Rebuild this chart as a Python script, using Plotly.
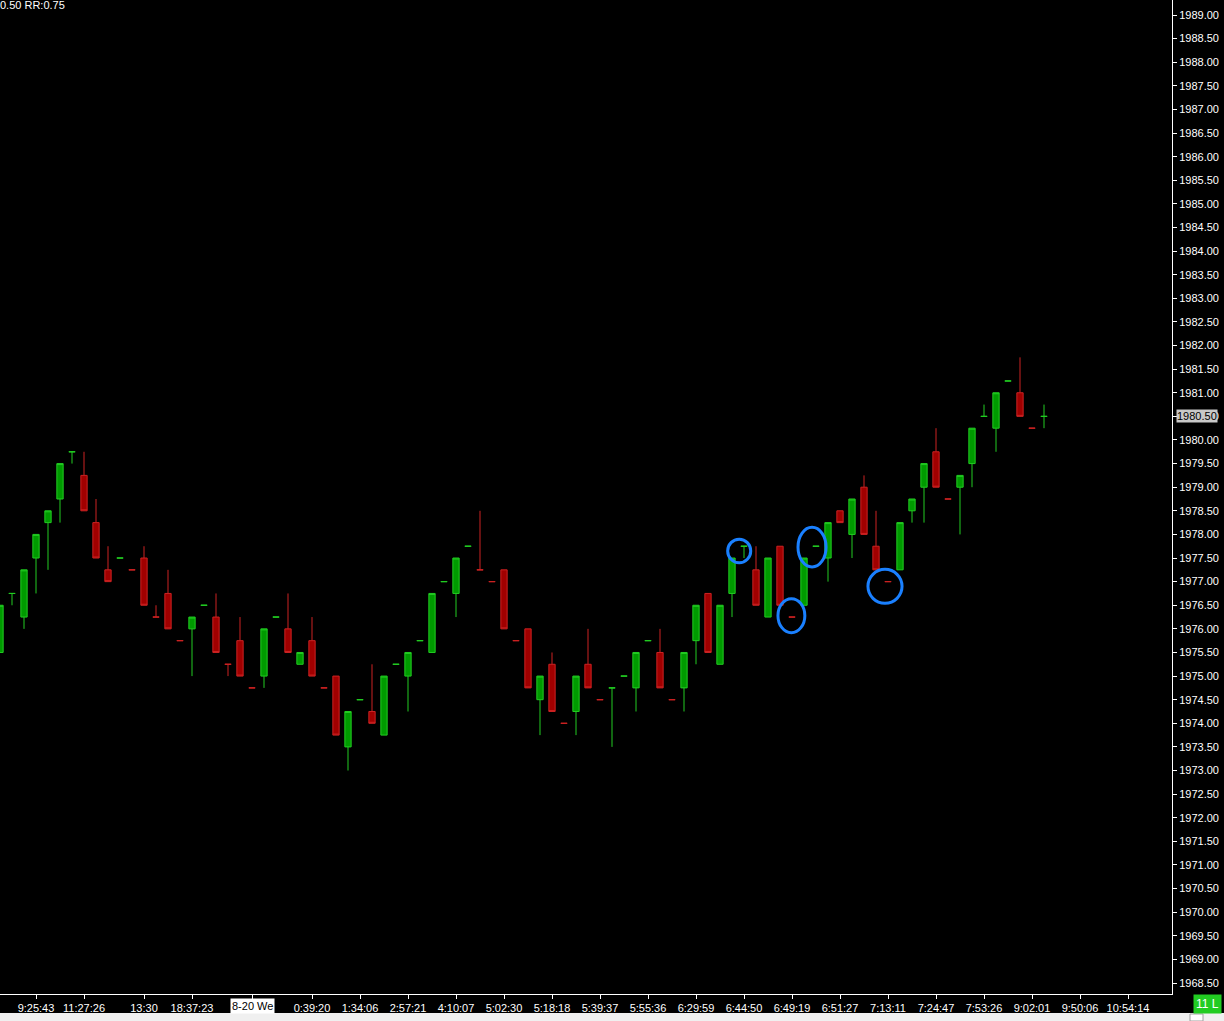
import plotly.graph_objects as go

# ---------------- data ----------------
opens = [1975.50, 1976.75, 1976.25, 1977.50, 1978.25, 1978.75, 1979.75, 1979.25, 1978.25, 1977.25,
         1977.50, 1977.25, 1977.50, 1976.25, 1976.75, 1975.75, 1976.00, 1976.50, 1976.25, 1975.25,
         1975.75, 1974.75, 1975.00, 1976.25, 1976.00, 1975.25, 1975.75, 1974.75, 1975.00, 1973.50,
         1974.50, 1974.25, 1973.75, 1975.25, 1975.00, 1975.75, 1975.50, 1977.00, 1976.75, 1977.75,
         1977.25, 1977.00, 1977.25, 1975.75, 1976.00, 1974.50, 1975.25, 1974.00, 1974.25, 1975.25,
         1974.50, 1974.75, 1975.00, 1974.75, 1975.75, 1975.50, 1974.50, 1974.75, 1975.75, 1976.75,
         1975.25, 1976.75, 1977.75, 1977.25, 1976.25, 1977.75, 1976.25, 1976.50, 1977.75, 1977.50,
         1978.50, 1978.00, 1979.00, 1977.75, 1977.00, 1977.25, 1978.50, 1979.00, 1979.75, 1978.75,
         1979.00, 1979.50, 1980.50, 1980.25, 1981.25, 1981.00, 1980.25, 1980.50]
highs = [1976.50, 1976.75, 1977.25, 1978.00, 1978.50, 1979.50, 1979.75, 1979.75, 1978.75, 1977.75,
         1977.50, 1977.25, 1977.75, 1976.50, 1977.25, 1975.75, 1976.25, 1976.50, 1976.75, 1975.25,
         1976.25, 1974.75, 1976.00, 1976.25, 1976.75, 1975.50, 1976.25, 1974.75, 1975.00, 1974.25,
         1974.50, 1975.25, 1975.00, 1975.25, 1975.50, 1975.75, 1976.75, 1977.00, 1977.50, 1977.75,
         1978.50, 1977.00, 1977.25, 1975.75, 1976.00, 1975.00, 1975.50, 1974.00, 1975.00, 1976.00,
         1974.50, 1974.75, 1975.00, 1975.50, 1975.75, 1976.00, 1974.50, 1975.50, 1976.50, 1976.75,
         1976.50, 1977.50, 1977.75, 1977.75, 1977.50, 1977.75, 1976.25, 1977.50, 1977.75, 1978.25,
         1978.50, 1978.75, 1979.25, 1978.50, 1977.00, 1978.25, 1978.75, 1979.50, 1980.25, 1978.75,
         1979.25, 1980.25, 1980.75, 1981.00, 1981.25, 1981.75, 1980.25, 1980.75]
lows = [1975.50, 1976.50, 1976.00, 1976.75, 1977.25, 1978.25, 1979.50, 1978.50, 1977.50, 1977.00,
        1977.50, 1977.25, 1976.50, 1976.25, 1976.00, 1975.75, 1975.00, 1976.50, 1975.50, 1975.00,
        1975.00, 1974.75, 1974.75, 1976.25, 1975.50, 1975.25, 1975.00, 1974.75, 1973.75, 1973.00,
        1974.50, 1974.00, 1973.75, 1975.25, 1974.25, 1975.75, 1975.50, 1977.00, 1976.25, 1977.75,
        1977.25, 1977.00, 1976.00, 1975.75, 1974.75, 1973.75, 1974.25, 1974.00, 1973.75, 1974.75,
        1974.50, 1973.50, 1975.00, 1974.25, 1975.75, 1974.75, 1974.50, 1974.25, 1975.25, 1975.50,
        1975.25, 1976.25, 1977.50, 1976.50, 1976.25, 1976.50, 1976.25, 1976.50, 1977.75, 1977.00,
        1978.25, 1977.50, 1978.00, 1977.25, 1977.00, 1977.25, 1978.25, 1978.25, 1979.00, 1978.75,
        1978.00, 1979.00, 1980.50, 1979.75, 1981.25, 1980.50, 1980.25, 1980.25]
closes = [1976.50, 1976.75, 1977.25, 1978.00, 1978.50, 1979.50, 1979.75, 1978.50, 1977.50, 1977.00,
          1977.50, 1977.25, 1976.50, 1976.25, 1976.00, 1975.75, 1976.25, 1976.50, 1975.50, 1975.25,
          1975.00, 1974.75, 1976.00, 1976.25, 1975.50, 1975.50, 1975.00, 1974.75, 1973.75, 1974.25,
          1974.50, 1974.00, 1975.00, 1975.25, 1975.50, 1975.75, 1976.75, 1977.00, 1977.50, 1977.75,
          1977.25, 1977.00, 1976.00, 1975.75, 1974.75, 1975.00, 1974.25, 1974.00, 1975.00, 1974.75,
          1974.50, 1974.75, 1975.00, 1975.50, 1975.75, 1974.75, 1974.50, 1975.50, 1976.50, 1975.50,
          1976.50, 1977.50, 1977.75, 1976.50, 1977.50, 1976.50, 1976.25, 1977.50, 1977.75, 1978.25,
          1978.25, 1978.75, 1978.00, 1977.25, 1977.00, 1978.25, 1978.75, 1979.50, 1979.00, 1978.75,
          1979.25, 1980.25, 1980.50, 1981.00, 1981.25, 1980.50, 1980.25, 1980.50]

tick_bars = [3, 7, 12, 16, 21, 26, 30, 34, 38, 42, 46, 50, 54, 58, 62, 66, 70, 74, 78, 82, 86, 90, 94]
tick_labels = ["9:25:43", "11:27:26", "13:30", "18:37:23", "8-20 We", "0:39:20", "1:34:06",
               "2:57:21", "4:10:07", "5:02:30", "5:18:18", "5:39:37", "5:55:36", "6:29:59",
               "6:44:50", "6:49:19", "6:51:27", "7:13:11", "7:24:47", "7:53:26", "9:02:01",
               "9:50:06", "10:54:14"]
date_label = "8-20 We"
last_price = 1980.50
header_text = "0.50 RR:0.75"
status_text = "11 L"

# highlighted (circled) spots: bar position, price, half-width (bars), half-height (price)
circle_x = [61.6, 65.95, 67.67, 73.75]
circle_y = [1977.65, 1976.28, 1977.73, 1976.90]
circle_rx = [0.96, 1.12, 1.17, 1.42]
circle_ry = [0.25, 0.36, 0.42, 0.36]

y_ticks = [1968.5 + 0.5 * k for k in range(42)]

# ---------------- figure ----------------
W, H = 1224, 1021
L_M, R_M, T_M, B_M = 0, 52, 0, 27
plot_w = W - L_M - R_M
plot_h = H - T_M - B_M
bar_px = 12.0

xs = list(range(len(opens)))
fig = go.Figure()
fig.add_trace(go.Candlestick(
    x=xs, open=opens, high=highs, low=lows, close=closes,
    increasing=dict(line=dict(color="#22cc22", width=1), fillcolor="#009a00"),
    decreasing=dict(line=dict(color="#cc2222", width=1), fillcolor="#a00000"),
    whiskerwidth=0, hoverinfo="skip", showlegend=False,
))

shapes = []
for cx, cy, rx, ry in zip(circle_x, circle_y, circle_rx, circle_ry):
    shapes.append(dict(type="circle", xref="x", yref="y",
                       x0=cx - rx, x1=cx + rx, y0=cy - ry, y1=cy + ry,
                       line=dict(color="#1a80ff", width=3), layer="above"))
# bottom scroll strip
shapes.append(dict(type="rect", xref="paper", yref="paper",
                   x0=0, x1=W / plot_w, y0=-(1013 - plot_h) / plot_h, y1=-(H - plot_h) / plot_h,
                   fillcolor="#f0f0f0", line=dict(width=0), layer="above"))
shapes.append(dict(type="rect", xref="paper", yref="paper",
                   x0=1190 / plot_w, x1=1203 / plot_w,
                   y0=-(1014 - plot_h) / plot_h, y1=-(H - plot_h) / plot_h,
                   fillcolor="#ffffff", line=dict(color="#a0a0a0", width=1), layer="above"))

font_main = "Liberation Sans, Arial, sans-serif"
annotations = [
    dict(text=header_text, xref="paper", yref="paper", x=0, y=1, xanchor="left", yanchor="top",
         xshift=-2, yshift=3, showarrow=False, font=dict(color="#ffffff", size=11, family=font_main)),
    dict(text=f"{last_price:.2f}", xref="paper", yref="y", x=1, y=last_price, xanchor="left",
         yanchor="middle", xshift=4, showarrow=False, bgcolor="#c8c8c8", borderpad=0,
         font=dict(color="#000000", size=11, family=font_main)),
    dict(text=date_label, xref="x", yref="paper", x=tick_bars[tick_labels.index(date_label)], y=0,
         xanchor="center", yanchor="top", yshift=-4, showarrow=False, bgcolor="#ffffff",
         borderpad=1, font=dict(color="#000000", size=11, family=font_main)),
    dict(text=status_text, xref="paper", yref="paper", x=1207 / plot_w, y=-(1004 - plot_h) / plot_h,
         xanchor="center", yanchor="middle", showarrow=False, bgcolor="#22cc22", borderpad=2,
         font=dict(color="#ffffff", size=12, family=font_main)),
]

x_end = plot_w / bar_px
fig.update_layout(
    width=W, height=H,
    margin=dict(l=L_M, r=R_M, t=T_M, b=B_M),
    paper_bgcolor="#000000", plot_bgcolor="#000000",
    boxgap=0.25,
    shapes=shapes, annotations=annotations,
    font=dict(family=font_main, color="#ffffff", size=11),
    xaxis=dict(range=[0, x_end], tickmode="array", tickvals=tick_bars, ticktext=tick_labels,
               showgrid=False, zeroline=False, showline=True, linecolor="#ffffff", linewidth=1,
               ticks="outside", ticklen=4, tickcolor="#ffffff", tickfont=dict(size=11, color="#ffffff"),
               rangeslider=dict(visible=False), fixedrange=True),
    yaxis=dict(range=[1968.267, 1989.318], side="right", tickmode="array", tickvals=y_ticks,
               ticktext=[f"{v:.2f}" for v in y_ticks],
               showgrid=False, zeroline=False, showline=True, linecolor="#ffffff", linewidth=1,
               ticks="outside", ticklen=4, tickcolor="#ffffff", tickfont=dict(size=11, color="#ffffff"),
               fixedrange=True),
)

fig.write_html(
    "out.html",
    config={"displayModeBar": False},
    post_script="document.body.style.margin='0';document.body.style.overflow='hidden';"
                "document.body.style.background='#000';",
)
